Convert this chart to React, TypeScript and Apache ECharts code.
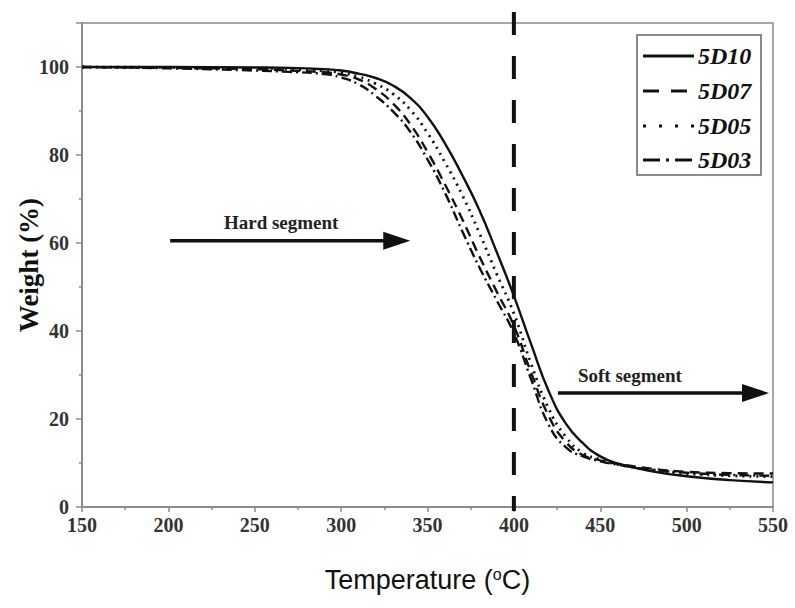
import React, { useEffect, useRef } from "react";
import * as echarts from "echarts";

// Thermogravimetric curves: weight (%) vs. temperature (°C)
const temperatures = [150, 200, 250, 270, 290, 300, 310, 320, 330, 340, 350, 360, 370, 380, 390, 400, 410, 420, 430, 440, 450, 460, 480, 500, 525, 550];
const seriesNames = ["5D10", "5D07", "5D05", "5D03"];
const weight5D10 = [100, 100, 99.9, 99.8, 99.5, 99.2, 98.5, 97.5, 95.8, 93, 88.7, 82.7, 75.5, 67.5, 58, 48, 37, 26.5, 19, 14.5, 11.5, 9.9, 8.1, 7.0, 6.1, 5.6];
const weight5D07 = [100, 99.8, 99.5, 99.2, 98.8, 98.3, 97.2, 95, 91.7, 87, 80.7, 73.4, 65.5, 57, 49, 41.2, 30.5, 20.8, 14.8, 11.8, 10.6, 9.8, 8.7, 8.0, 7.7, 7.6];
const weight5D05 = [100, 99.9, 99.7, 99.5, 99.1, 98.7, 97.8, 96.2, 93.9, 90.3, 85, 78.4, 71, 62.3, 53, 44, 32.5, 22.5, 16, 12.3, 10.8, 9.7, 8.4, 7.6, 7.1, 6.9];
const weight5D03 = [100, 99.7, 99.2, 98.9, 98.4, 97.6, 96.1, 93.4, 89.9, 85.3, 79, 71.5, 62.8, 54.5, 47, 39.5, 29, 18.8, 13.6, 11.5, 10.4, 9.6, 8.5, 7.8, 7.3, 7.1];
const weights = [weight5D10, weight5D07, weight5D05, weight5D03];

const dividerTemperature = 400;
const annotations = [
  { text: "Hard segment", from: [201, 60.5], to: [340, 60.5] },
  { text: "Soft segment", from: [425.5, 25.9], to: [547.7, 25.9] },
];

const INK = "#111";
const AXIS = "#8c8c8c";
const SERIF = "'Liberation Serif', 'Times New Roman', serif";

const lineDashes: (string | number[])[] = ["solid", [10, 6], [2, 5], [10, 4, 2, 4]];
const legendDashes: (number[] | null)[] = [null, [16, 12], [3, 13], [17, 6, 3, 6]];

export default function App() {
  const ref = useRef<HTMLDivElement>(null);

  useEffect(() => {
    if (!ref.current) return;
    const chart = echarts.init(ref.current, null, { renderer: "svg" });

    const series = seriesNames.map((name, i) => ({
      name,
      type: "line",
      data: temperatures.map((t, j) => [t, weights[i][j]]),
      showSymbol: false,
      smooth: 0.5,
      z: 10 - i,
      lineStyle: { color: INK, width: i === 2 ? 2.8 : 2.4, type: lineDashes[i] },
    }));

    chart.setOption({
      animation: false,
      backgroundColor: "#fff",
      grid: {
        left: 82,
        right: 22,
        top: 23,
        bottom: 101,
        show: true,
        borderColor: AXIS,
        borderWidth: 1.5,
        containLabel: false,
        outerBoundsMode: "none",
      },
      xAxis: {
        type: "value",
        min: 150,
        max: 550,
        interval: 50,
        name: "Temperature ({sup|o}C)",
        nameLocation: "middle",
        nameGap: 59,
        nameMoveOverlap: false,
        nameTextStyle: {
          fontFamily: "'Liberation Sans', Arial, sans-serif",
          fontSize: 27,
          color: INK,
          rich: { sup: { fontSize: 16, verticalAlign: "top", padding: [0, 0, 12, 0], fontFamily: "'Liberation Sans', Arial, sans-serif", color: INK } },
        },
        axisLine: { lineStyle: { color: AXIS, width: 2 } },
        axisTick: { show: true, length: 5, lineStyle: { color: AXIS, width: 1.5 } },
        minorTick: { show: true, splitNumber: 2, length: 3, lineStyle: { color: AXIS, width: 1.5 } },
        splitLine: { show: false },
        axisLabel: { fontFamily: SERIF, fontWeight: "bold", fontSize: 20, color: "#333", margin: 8 },
      },
      yAxis: {
        type: "value",
        min: 0,
        max: 110,
        interval: 20,
        name: "Weight (%)",
        nameLocation: "middle",
        nameGap: 40,
        nameMoveOverlap: false,
        nameTextStyle: { fontFamily: SERIF, fontWeight: "bold", fontSize: 27, color: INK },
        axisLine: { show: true, lineStyle: { color: AXIS, width: 2 } },
        axisTick: { show: true, length: 6, lineStyle: { color: AXIS, width: 1.5 } },
        minorTick: { show: true, splitNumber: 2, length: 3, lineStyle: { color: AXIS, width: 1.5 } },
        splitLine: { show: false },
        axisLabel: {
          fontFamily: SERIF,
          fontWeight: "bold",
          fontSize: 20,
          color: "#333",
          margin: 13,
          formatter: (v: number) => (v > 100 ? "" : String(v)),
        },
      },
      series,
    });

    const px = (t: number, w: number) => chart.convertToPixel({ gridIndex: 0 }, [t, w]) as number[];
    const graphics: any[] = [];

    // vertical divider at 400 °C, running above the frame
    const base = px(dividerTemperature, 0);
    graphics.push({
      type: "line",
      z: 50,
      shape: { x1: base[0], y1: 12, x2: base[0], y2: base[1] + 4 },
      style: { stroke: INK, lineWidth: 4, lineDash: [23, 21] },
    });

    // segment arrows with captions
    annotations.forEach((a, i) => {
      const s = px(a.from[0], a.from[1]);
      const e = px(a.to[0], a.to[1]);
      const head = 27;
      graphics.push({
        type: "line",
        z: 50,
        shape: { x1: s[0], y1: s[1], x2: e[0] - head + 2, y2: e[1] },
        style: { stroke: INK, lineWidth: 3.5 },
      });
      graphics.push({
        type: "polygon",
        z: 50,
        shape: { points: [[e[0], e[1]], [e[0] - head, e[1] - 9], [e[0] - head, e[1] + 9]] },
        style: { fill: INK },
      });
      graphics.push({
        type: "text",
        z: 50,
        x: i === 0 ? (s[0] + e[0]) / 2 - 9 : s[0] + 20,
        y: s[1] - 18,
        style: {
          text: a.text,
          fontFamily: SERIF,
          fontWeight: "bold",
          fontSize: 19,
          fill: "#222",
          align: i === 0 ? "center" : "left",
          verticalAlign: "middle",
        },
      });
    });

    // legend box
    graphics.push({
      type: "rect",
      z: 60,
      shape: { x: 637, y: 35, width: 124, height: 140 },
      style: { fill: "#fff", stroke: "#666", lineWidth: 1.5 },
    });
    const rows = [56, 91, 126, 160];
    seriesNames.forEach((name, i) => {
      graphics.push({
        type: "line",
        z: 61,
        shape: { x1: 643, y1: rows[i], x2: 694, y2: rows[i] },
        style: { stroke: INK, lineWidth: 3, lineDash: legendDashes[i] || undefined },
      });
      graphics.push({
        type: "text",
        z: 61,
        x: 698,
        y: rows[i],
        style: {
          text: name,
          fontFamily: SERIF,
          fontWeight: "bold",
          fontStyle: "italic",
          fontSize: 24,
          fill: INK,
          verticalAlign: "middle",
        },
      });
    });

    chart.setOption({ graphic: graphics });

    return () => chart.dispose();
  }, []);

  return <div ref={ref} style={{ position: "fixed", left: 0, top: 0, width: 795, height: 608 }} />;
}
